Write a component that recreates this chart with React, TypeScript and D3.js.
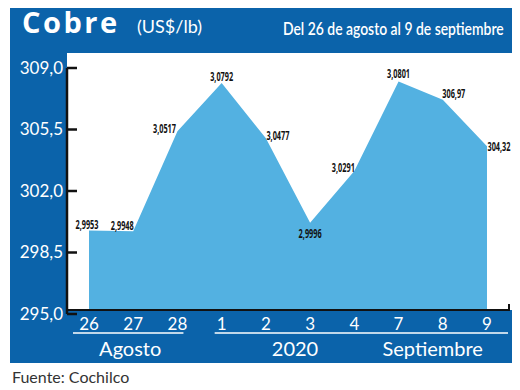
import React, { useLayoutEffect, useRef, useState } from "react";
import * as d3 from "d3";

// datos del gráfico
const days = ["26", "27", "28", "1", "2", "3", "4", "7", "8", "9"];
const prices = [299.53, 299.48, 305.17, 307.92, 304.77, 299.96, 302.91, 308.01, 306.97, 304.32];
const priceLabels = ["2,9953", "2,9948", "3,0517", "3,0792", "3,0477", "2,9996", "3,0291", "3,0801", "306,97", "304,32"];
const yTicks = [295, 298.5, 302, 305.5, 309];
const yTickLabels = ["295,0", "298,5", "302,0", "305,5", "309,0"];

// posición de cada etiqueta respecto a su punto (solo estilo)
const labelOffsets = [
  [-2, -6], [-11, -6], [-13, -3], [0, -7], [12, -3],
  [0, 11], [-11, -4], [0, -8], [11, -6], [12, 0],
];

const W = 520;
const H = 390;
const frame = { left: 10, top: 8, right: 512, bottom: 363 };
const plot = { left: 67, top: 53, right: 512, bottom: 310 };
const dark = "#0b63aa";
const light = "#53b1e1";
const font = "Lato, 'Open Sans', sans-serif";

// texto estrechado horizontalmente hasta un ancho dado
function NarrowText({ x, y, width, anchor = "start", children, ...rest }: any) {
  const ref = useRef<SVGTextElement>(null);
  const [sx, setSx] = useState(1);
  useLayoutEffect(() => {
    if (ref.current) {
      const len = ref.current.getComputedTextLength();
      if (len > 0) setSx(width / len);
    }
  }, [width, children]);
  return (
    <g transform={`translate(${x},${y}) scale(${sx},1)`}>
      <text ref={ref} x={0} y={0} textAnchor={anchor} {...rest}>
        {children}
      </text>
    </g>
  );
}

export default function App() {
  const x = d3.scalePoint<string>().domain(days).range([89, 487]);
  const y = d3.scaleLinear().domain([295, 309]).range([plot.bottom, 64]);
  const tickShift = 4; // los ticks del original están algo desplazados

  const area = d3
    .area<number>()
    .x((_, i) => x(days[i])!)
    .y0(plot.bottom)
    .y1((d) => y(d));

  const xs = (k: string) => x(k)!;

  return (
    <svg width={W} height={H} style={{ position: "absolute", left: 0, top: 0 }}>
      <rect x={0} y={0} width={W} height={H} fill="#fff" />
      <rect
        x={frame.left}
        y={frame.top}
        width={frame.right - frame.left}
        height={frame.bottom - frame.top}
        fill={dark}
      />
      <rect
        x={plot.left}
        y={plot.top}
        width={plot.right - plot.left}
        height={plot.bottom - plot.top}
        fill="#fff"
      />

      {/* título */}
      <text x={22} y={33} fill="#fff" fontFamily="'Open Sans', sans-serif" fontWeight={700}
        fontSize={29} letterSpacing={2.5}>
        Cobre
      </text>
      <text x={137} y={33} fill="#fff" fontFamily={font} fontSize={18}>
        (US$/lb)
      </text>
      <NarrowText x={283} y={35} width={221} fill="#fff" fontFamily={font} fontSize={17} fontWeight={600}>
        Del 26 de agosto al 9 de septiembre
      </NarrowText>

      {/* área */}
      <path d={area(prices) ?? ""} fill={light} />

      {/* eje x */}
      <line x1={plot.left} x2={510} y1={plot.bottom} y2={plot.bottom} stroke="#111" strokeWidth={2} />
      <line x1={509} x2={509} y1={plot.bottom} y2={plot.bottom - 6} stroke="#111" strokeWidth={2} />

      {/* eje y */}
      <g transform={`translate(0,${tickShift})`}>
        <line x1={plot.left} x2={plot.left} y1={y(309)} y2={y(295)} stroke="#111" strokeWidth={2.5} />
        {yTicks.map((t, i) => (
          <g key={t}>
            <line x1={plot.left} x2={plot.left + 10} y1={y(t)} y2={y(t)} stroke="#111" strokeWidth={2.5} />
            <text x={63} y={y(t)} dy="0.35em" textAnchor="end" fill="#fff" fontFamily={font} fontSize={17}>
              {yTickLabels[i]}
            </text>
          </g>
        ))}
      </g>

      {/* etiquetas de valores */}
      {prices.map((p, i) => (
        <NarrowText
          key={i}
          x={xs(days[i]) + labelOffsets[i][0]}
          y={y(p) + labelOffsets[i][1]}
          width={23}
          anchor="middle"
          dy="0.35em"
          fill="#111"
          fontFamily="'Open Sans', sans-serif"
          fontWeight={700}
          fontSize={13}
        >
          {priceLabels[i]}
        </NarrowText>
      ))}

      {/* etiquetas del eje x */}
      {days.map((d) => (
        <text key={d} x={xs(d)} y={330} textAnchor="middle" fill="#fff" fontFamily={font} fontSize={17}>
          {d}
        </text>
      ))}
      <line x1={xs("26") - 16} x2={xs("28") + 6} y1={333} y2={333} stroke="#fff" strokeWidth={1.5} />
      <line x1={xs("1") - 7} x2={508} y1={333} y2={333} stroke="#fff" strokeWidth={1.5} />
      <text x={xs("27") - 3} y={356} textAnchor="middle" fill="#fff" fontFamily={font} fontSize={20}>
        Agosto
      </text>
      <text x={(xs("2") + xs("3")) / 2 + 7} y={356} textAnchor="middle" fill="#fff" fontFamily={font} fontSize={20}>
        2020
      </text>
      <text x={(xs("7") + xs("8")) / 2 + 12} y={356} textAnchor="middle" fill="#fff" fontFamily={font} fontSize={20}>
        Septiembre
      </text>

      <text x={12} y={383} fill="#333" fontFamily={font} fontSize={16}>
        Fuente: Cochilco
      </text>
    </svg>
  );
}
